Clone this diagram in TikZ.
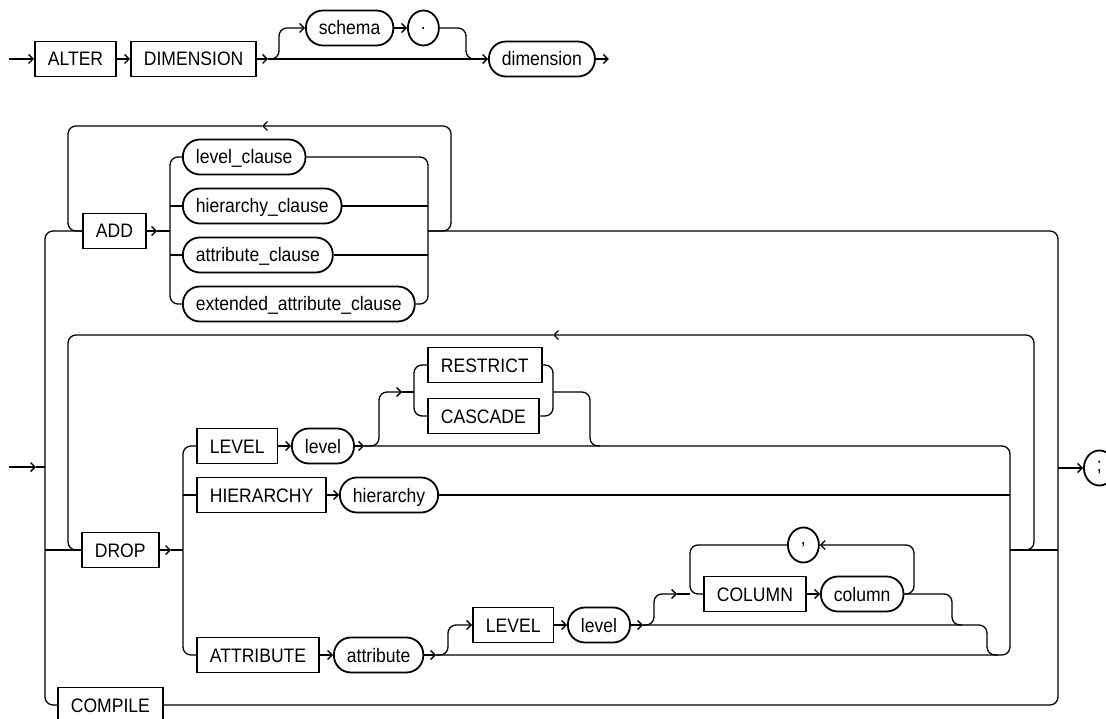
\documentclass[tikz,border=0pt]{standalone}
\usepackage{fontspec}
\setmainfont{Liberation Sans}[FakeStretch=0.9]
\usepackage{tikz}
\usetikzlibrary{arrows.meta,shapes.geometric}

\begin{document}
\begin{tikzpicture}[x=1pt,y=-1pt,font=\fontsize{19.5pt}{22pt}\selectfont,
  >={Straight Barb[length=4.5pt,width=9pt]}, line width=1.3pt,
  kwbox/.style={draw,rectangle,line width=1.8pt,minimum height=35pt,inner xsep=13pt,text height=14pt,text depth=0pt,anchor=west},
  idbox/.style={draw,rectangle,rounded corners=17pt,line width=1.8pt,minimum height=35pt,inner xsep=13pt,text height=14pt,text depth=0pt,anchor=west},
  punc/.style={draw,ellipse,line width=1.8pt,minimum width=31pt,minimum height=35pt,inner sep=0pt,anchor=west},
  rc/.style={rounded corners=8pt}]
\useasboundingbox (0,0) rectangle (1106,719);
% first line
\node[kwbox] (alter) at (34,59) {ALTER};
\node[kwbox] (dimkw) at (130,59) {DIMENSION};
\node[idbox] (schema) at (305,28) {schema};
\node[punc] (dot) at (407,28) {.};
\node[idbox] (dimension) at (488,59) {dimension};
\coordinate (s1) at (9,59);
\coordinate (b1) at (268,59);
\coordinate (j1) at (466,59);
\draw[->] (s1) -- (alter);
\draw[->] (alter) -- (dimkw);
\draw[->] (dimkw) -- (b1);
\draw[->] (b1) -- (dimension);
\draw[rc,->] (b1) -- ++(11,0) |- (schema.west);
\draw[->] (schema) -- (dot);
\draw[rc] (dot) -| (j1) -- ++(10,0);
\draw[->] (dimension.east) -- ++(13,0);
% ADD
\node[kwbox] (add) at (82,231) {ADD};
\foreach \n/\t/\y in {lc/level\_clause/157,hc/hierarchy\_clause/206,ac/attribute\_clause/255,ec/extended\_attribute\_clause/304}
  \node[idbox] (\n) at (182,\y) {\t};
\node[kwbox] (compile) at (57,705) {COMPILE};
\coordinate (aT) at (157,231);
\coordinate (aL) at (170,231);
\coordinate (aR) at (428,231);
\coordinate (lr) at (451,126);
\coordinate (la) at (262,126);
\coordinate (ll) at (68,126);
\coordinate (lb) at (45,705);
\coordinate (rb) at (1058,705);
\draw[->] (add) -- (aT);
\draw (aT) -- (aL);
\draw[rc] (lc.west) -| (aL) |- (ec.west);
\draw[rc] (lc.east) -| (aR) |- (ec.east);
\foreach \n in {hc,ac} {\draw (\n.west) -- (\n.west -| aL); \draw (\n.east) -- (\n.east -| aR);}
\draw[rc,->] (aR) -| (lr) -- (la);
\draw[rc] (la) -- (ll) |- (add.west);
\draw[rc] (aR) -| (rb) -- (compile.east);
\draw[rc] (add.west) -| (lb) -- (compile.west);
% DROP
\coordinate (s2) at (9,467);
\coordinate (e2) at (36,467);
\draw[->] (s2) -- (e2);
\draw (e2) -- (e2 -| lb);
\node[kwbox] (drop) at (81,550) {DROP};
\node[kwbox] (lvkw) at (196,446) {LEVEL};
\node[idbox] (lv) at (291,446) {level};
\node[kwbox] (hikw) at (196,495) {HIERARCHY};
\node[idbox] (hi) at (339,495) {hierarchy};
\node[kwbox] (atkw) at (196,655) {ATTRIBUTE};
\node[idbox] (at) at (333,655) {attribute};
\coordinate (dT) at (171,550);
\coordinate (dL) at (183,550);
\coordinate (dR) at (1010,550);
\coordinate (dRb) at (1010,655);
\coordinate (lvA) at (364,446);
\coordinate (atA) at (436,655);
\draw (drop.west) -- (drop.west -| lb);
\draw[->] (drop) -- (dT);
\draw (dT) -- (dL);
\draw[rc] (lvkw.west) -| (dL) |- (atkw.west);
\draw (hikw) -- (hikw.west -| dL);
\draw[->] (lvkw) -- (lv);
\draw[->] (hikw) -- (hi);
\draw[->] (atkw) -- (at);
\draw[->] (lv) -- (lvA);
\draw[->] (at) -- (atA);
\draw[rc] (lvA) -| (dRb) -- (atA);
\draw (hi) -- (hi.east -| dR);
\draw (dR) -- (dR -| rb);
% RESTRICT / CASCADE
\node[kwbox] (re) at (427,365) {RESTRICT};
\node[kwbox] (ca) at (427,416) {CASCADE};
\coordinate (rcT) at (402,392);
\coordinate (rcL) at (414,392);
\coordinate (rcR) at (553,392);
\coordinate (rcJ) at (590,446);
\draw[rc,->] (lvA) -- ++(15,0) |- (rcT);
\draw (rcT) -- (rcL);
\draw[rc] (re.west) -| (rcL) |- (ca.west);
\draw[rc] (re.east) -| (rcR) |- (ca.east);
\draw[rc] (rcR) -| (rcJ) -- ++(10,0);
% LEVEL ... COLUMN
\node[kwbox] (lv2kw) at (472,625) {LEVEL};
\node[idbox] (lv2) at (567,625) {level};
\node[kwbox] (colkw) at (703,594) {COLUMN};
\node[idbox] (col) at (820,594) {column};
\node[punc] (comma) at (787,545) {,};
\coordinate (lv2A) at (643,625);
\coordinate (lj) at (987,655);
\coordinate (cT) at (677,594);
\coordinate (cL) at (690,594);
\coordinate (cR) at (914,545);
\coordinate (cj) at (952,625);
\draw[rc,->] (atA) -- ++(12,0) |- (lv2kw.west);
\draw[->] (lv2kw) -- (lv2);
\draw[->] (lv2) -- (lv2A);
\draw[rc] (lv2A) -| (lj) -- ++(11,0);
\draw[rc,->] (lv2A) -- ++(11,0) |- (cT);
\draw (cT) -- (cL);
\draw[->] (colkw) -- (col);
\draw[rc,->] (col.east) -| (cR) -- (comma.east);
\draw[rc] (comma.west) -| (cL) -- (colkw.west);
\draw[rc] (col.east) -| (cj) -- ++(10,0);
% DROP loop
\coordinate (dl1) at (1034,335);
\coordinate (dl2) at (553,335);
\coordinate (dl3) at (68,335);
\draw[rc,->] (dR) -| (dl1) -- (dl2);
\draw[rc] (dl2) -- (dl3) |- (drop.west);
% end
\node[punc] (semi) at (1083,468) {;};
\draw[->] (semi.west -| rb) -- (semi);
\end{tikzpicture}
\end{document}
